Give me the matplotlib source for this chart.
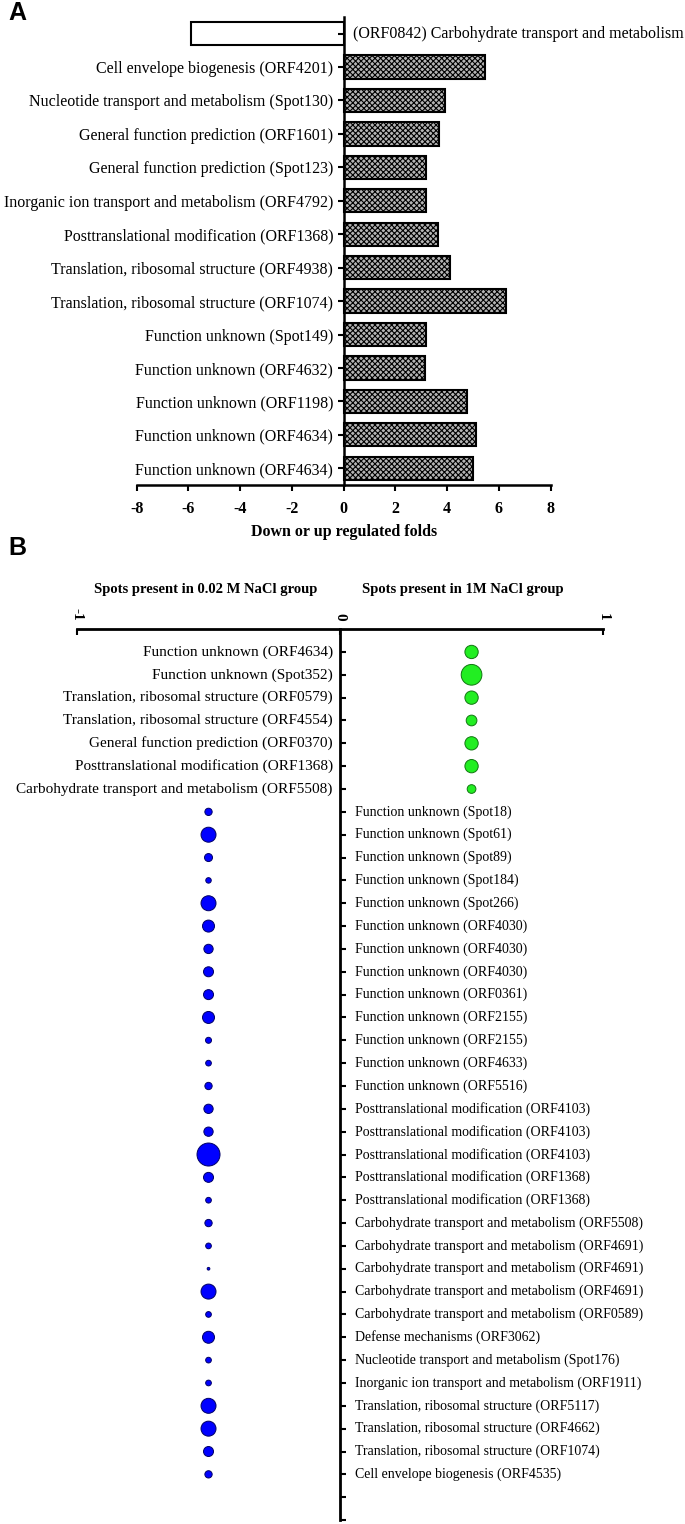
import matplotlib
matplotlib.use('Agg')
import matplotlib.pyplot as plt

plt.rcParams['font.family'] = ['Liberation Serif', 'DejaVu Serif']
plt.rcParams['axes.unicode_minus'] = False
plt.rcParams['hatch.linewidth'] = 0.8

# Panel A: down / up regulated folds
a_labels = [
    '(ORF0842) Carbohydrate transport and metabolism',
    'Cell envelope biogenesis (ORF4201)',
    'Nucleotide transport and metabolism (Spot130)',
    'General function prediction (ORF1601)',
    'General function prediction (Spot123)',
    'Inorganic ion transport and metabolism (ORF4792)',
    'Posttranslational modification (ORF1368)',
    'Translation, ribosomal structure (ORF4938)',
    'Translation, ribosomal structure (ORF1074)',
    'Function unknown (Spot149)',
    'Function unknown (ORF4632)',
    'Function unknown (ORF1198)',
    'Function unknown (ORF4634)',
    'Function unknown (ORF4634)',
]
a_folds = [-5.9, 5.45, 3.92, 3.70, 3.16, 3.18, 3.64, 4.10, 6.27, 3.17, 3.15, 4.76, 5.13, 5.0]

# Panel B: spots present in only one group (spot size = relative abundance)
green_labels = [
    'Function unknown (ORF4634)',
    'Function unknown (Spot352)',
    'Translation, ribosomal structure (ORF0579)',
    'Translation, ribosomal structure (ORF4554)',
    'General function prediction (ORF0370)',
    'Posttranslational modification (ORF1368)',
    'Carbohydrate transport and metabolism (ORF5508)',
]
green_sizes = [13.3, 20.7, 13.3, 10.7, 13.3, 13.3, 8.7]

blue_labels = [
    'Function unknown (Spot18)',
    'Function unknown (Spot61)',
    'Function unknown (Spot89)',
    'Function unknown (Spot184)',
    'Function unknown (Spot266)',
    'Function unknown (ORF4030)',
    'Function unknown (ORF4030)',
    'Function unknown (ORF4030)',
    'Function unknown (ORF0361)',
    'Function unknown (ORF2155)',
    'Function unknown (ORF2155)',
    'Function unknown (ORF4633)',
    'Function unknown (ORF5516)',
    'Posttranslational modification (ORF4103)',
    'Posttranslational modification (ORF4103)',
    'Posttranslational modification (ORF4103)',
    'Posttranslational modification (ORF1368)',
    'Posttranslational modification (ORF1368)',
    'Carbohydrate transport and metabolism (ORF5508)',
    'Carbohydrate transport and metabolism (ORF4691)',
    'Carbohydrate transport and metabolism (ORF4691)',
    'Carbohydrate transport and metabolism (ORF4691)',
    'Carbohydrate transport and metabolism (ORF0589)',
    'Defense mechanisms (ORF3062)',
    'Nucleotide transport and metabolism (Spot176)',
    'Inorganic ion transport and metabolism (ORF1911)',
    'Translation, ribosomal structure (ORF5117)',
    'Translation, ribosomal structure (ORF4662)',
    'Translation, ribosomal structure (ORF1074)',
    'Cell envelope biogenesis (ORF4535)',
]
blue_sizes = [7.3, 15, 8, 5.5, 15, 12, 9.3, 10, 10, 12, 6, 5.7, 7.3, 9.3, 9.3, 23,
              10, 5.7, 7.3, 5.7, 2.7, 15, 5.7, 12, 5.7, 5.7, 15, 15, 10, 7.3]

fig = plt.figure(figsize=(6.85, 15.24), dpi=100)

# ---- panel A
axA = fig.add_axes([0.1996, 0.6818, 0.6044, 0.3071])
ypos = list(range(len(a_labels)))
bars = axA.barh(ypos, a_folds, height=0.70, facecolor='#b4b4b4', edgecolor='black',
                linewidth=1.5, hatch='xxxxxx')
bars[0].set_hatch('')
bars[0].set_facecolor('white')
axA.set_xlim(-8, 8)
axA.set_ylim(len(a_labels) - 0.5, -0.5)
axA.spines['left'].set_position(('data', 0))
axA.spines['right'].set_visible(False)
axA.spines['top'].set_visible(False)
for s in ('left', 'bottom'):
    axA.spines[s].set_linewidth(1.8)
axA.set_xticks(range(-8, 9, 2))
axA.set_xticklabels([str(v) for v in range(-8, 9, 2)], fontweight='bold', fontsize=11.5)
axA.set_yticks(ypos)
axA.set_yticklabels([''] + a_labels[1:], fontsize=11.5)
axA.tick_params(axis='both', direction='out', length=4.5, width=1.5)
axA.tick_params(axis='x', pad=7)
axA.tick_params(axis='y', pad=3)
axA.text(0.35, 0, a_labels[0], ha='left', va='center', fontsize=11.5)
axA.set_xlabel('Down or up regulated folds', fontweight='bold', fontsize=11.5, labelpad=5)

# ---- panel B
axB = fig.add_axes([0.1124, 0.0026, 0.768, 0.5846])
axB.set_xlim(-1, 1)
axB.set_ylim(39, 0)
axB.spines['left'].set_position(('data', 0))
axB.spines['right'].set_visible(False)
axB.spines['bottom'].set_visible(False)
for s in ('left', 'top'):
    axB.spines[s].set_linewidth(2)
axB.xaxis.tick_top()
axB.set_xticks([-1, 0, 1])
axB.set_xticklabels(['-1', '0', '1'], rotation=270, fontweight='bold', fontsize=11)
axB.tick_params(axis='x', direction='in', length=4, width=1.5, pad=6)
axB.set_yticks(range(1, 40))
axB.set_yticklabels([])
axB.tick_params(axis='y', direction='in', length=4.5, width=1.5)

gy = [i + 1 for i in range(len(green_labels))]
by = [i + 1 + len(green_labels) for i in range(len(blue_labels))]
axB.scatter([0.5] * len(gy), gy, s=[(d * 0.72) ** 2 for d in green_sizes],
            color='#22ee22', edgecolor='#117711', linewidth=0.7, zorder=3)
axB.scatter([-0.5] * len(by), by, s=[(d * 0.72) ** 2 for d in blue_sizes],
            color='#0000ff', edgecolor='#000066', linewidth=0.7, zorder=3)
for y, lab in zip(gy, green_labels):
    axB.text(-0.028, y, lab, ha='right', va='center', fontsize=11)
for y, lab in zip(by, blue_labels):
    axB.text(0.057, y, lab, ha='left', va='center', fontsize=10)

fig.text(206 / 685, 1 - 590 / 1524, 'Spots present in 0.02 M NaCl group',
         ha='center', va='center', fontweight='bold', fontsize=10.5)
fig.text(463 / 685, 1 - 590 / 1524, 'Spots present in 1M NaCl group',
         ha='center', va='center', fontweight='bold', fontsize=10.5)

fig.text(8 / 685, 1 - 13 / 1524, 'A', ha='left', va='center', fontsize=18,
         fontweight='bold', family='Liberation Sans')
fig.text(8 / 685, 1 - 548 / 1524, 'B', ha='left', va='center', fontsize=18,
         fontweight='bold', family='Liberation Sans')

fig.savefig('out.png', dpi=100)
